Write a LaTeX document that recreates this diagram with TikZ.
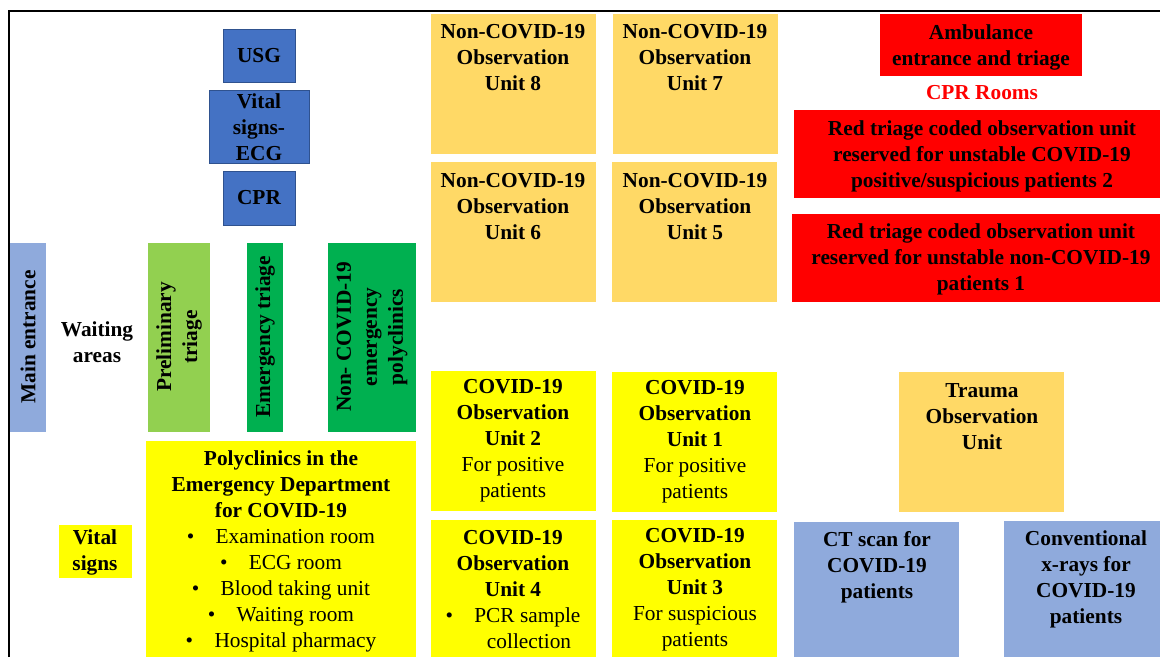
\documentclass[tikz,border=0pt]{standalone}
\usepackage{fontspec}
\setmainfont{Liberation Serif}
\definecolor{ctblue}{HTML}{4472C4}
\definecolor{ctblueedge}{HTML}{2F528F}
\definecolor{lightblue}{HTML}{8FAADC}
\definecolor{lightgreen}{HTML}{92D050}
\definecolor{triagegreen}{HTML}{00B050}
\definecolor{covidyellow}{HTML}{FFFF00}
\definecolor{obsorange}{HTML}{FFD966}
\definecolor{redzone}{HTML}{FF0000}
\tikzset{
  lbl/.style={align=center, inner sep=0pt, font=\fontsize{16}{19.5}\selectfont\bfseries},
  bluebox/.style={fill=ctblue, draw=ctblueedge, line width=0.6pt},
}
\begin{document}
\begin{tikzpicture}[x=0.75pt, y=-0.75pt]
      \useasboundingbox (0,0) rectangle (1160,657);
      \draw[line width=1.5pt] (9,657) -- (9,11) -- (1160,11);

      % left wing
      \filldraw[bluebox] (223,29) rectangle (295,82);
      \node[lbl] (usg) at (259,56) {USG};
      \filldraw[bluebox] (209,90) rectangle (309,163);
      \node[lbl] (vitalecg) at (259,127) {Vital\\signs-\\ECG};
      \filldraw[bluebox] (223,171) rectangle (295,225);
      \node[lbl] (cpr) at (259,198) {CPR};

      \fill[lightblue] (10,243) rectangle (46,432);
      \node[lbl, rotate=90] (mainent) at (28,337) {Main entrance};
      \node[lbl] (waiting) at (97,342) {Waiting\\areas};
      \fill[lightgreen] (148,243) rectangle (210,432);
      \node[lbl, rotate=90] (pretriage) at (179,337) {Preliminary\\triage};
      \fill[triagegreen] (247,243) rectangle (283,432);
      \node[lbl, rotate=90] (emtriage) at (265,337) {Emergency triage};
      \fill[triagegreen] (328,243) rectangle (416,432);
      \node[lbl, rotate=90] (noncovpoly) at (372,337) {Non- COVID-19\\emergency\\polyclinics};

      \fill[covidyellow] (59,525) rectangle (132,578);
      \node[lbl] (vital) at (95,552) {Vital\\signs};
      \fill[covidyellow] (146,441) rectangle (416,657);
      \node[lbl] (poly) at (281,551) {Polyclinics in the\\Emergency Department\\for COVID-19\\
        \mdseries\textbullet\hspace{16pt}Examination room\\
        \mdseries\textbullet\hspace{16pt}ECG room\\
        \mdseries\textbullet\hspace{16pt}Blood taking unit\\
        \mdseries\textbullet\hspace{16pt}Waiting room\\
        \mdseries\textbullet\hspace{16pt}Hospital pharmacy};

      % observation units
      \fill[obsorange] (431,14) rectangle (596,154);
      \node[lbl] (unit8) at (513,58) {Non-COVID-19\\Observation\\Unit 8};
      \fill[obsorange] (613,14) rectangle (778,154);
      \node[lbl] (unit7) at (695,58) {Non-COVID-19\\Observation\\Unit 7};
      \fill[obsorange] (431,162) rectangle (596,302);
      \node[lbl] (unit6) at (513,207) {Non-COVID-19\\Observation\\Unit 6};
      \fill[obsorange] (612,162) rectangle (777,302);
      \node[lbl] (unit5) at (695,207) {Non-COVID-19\\Observation\\Unit 5};

      \fill[covidyellow] (431,371) rectangle (596,511);
      \node[lbl] (unit2) at (513,441) {COVID-19\\Observation\\Unit 2\\\mdseries For positive\\\mdseries patients};
      \fill[covidyellow] (612,372) rectangle (777,512);
      \node[lbl] (unit1) at (695,442) {COVID-19\\Observation\\Unit 1\\\mdseries For positive\\\mdseries patients};
      \fill[covidyellow] (431,520) rectangle (596,657);
      \node[lbl] (unit4) at (513,590) {COVID-19\\Observation\\Unit 4\\
        \mdseries\textbullet\hspace{16pt}PCR sample\\\mdseries\hspace{24pt}collection};
      \fill[covidyellow] (612,520) rectangle (777,657);
      \node[lbl] (unit3) at (695,590) {COVID-19\\Observation\\Unit 3\\\mdseries For suspicious\\\mdseries patients};

      % right wing
      \fill[redzone] (880,14) rectangle (1082,76);
      \node[lbl] (ambulance) at (981,47) {Ambulance\\entrance and triage};
      \node[lbl, text=redzone] (cprrooms) at (982,93) {CPR Rooms};
      \fill[redzone] (794,110) rectangle (1160,198);
      \node[lbl] (redobs2) at (982,156) {Red triage coded observation unit\\reserved for unstable COVID-19\\positive/suspicious patients 2};
      \fill[redzone] (792,214) rectangle (1160,302);
      \node[lbl] (redobs1) at (981,259) {Red triage coded observation unit\\reserved for unstable non-COVID-19\\patients 1};

      \fill[obsorange] (899,372) rectangle (1064,512);
      \node[lbl] (trauma) at (982,417) {Trauma\\Observation\\Unit};
      \fill[lightblue] (794,522) rectangle (959,657);
      \node[lbl] (ctscan) at (877,567) {CT scan for\\COVID-19\\patients};
      \fill[lightblue] (1004,521) rectangle (1160,657);
      \node[lbl] (xray) at (1086,579) {Conventional\\x-rays for\\COVID-19\\patients};
\end{tikzpicture}
\end{document}
